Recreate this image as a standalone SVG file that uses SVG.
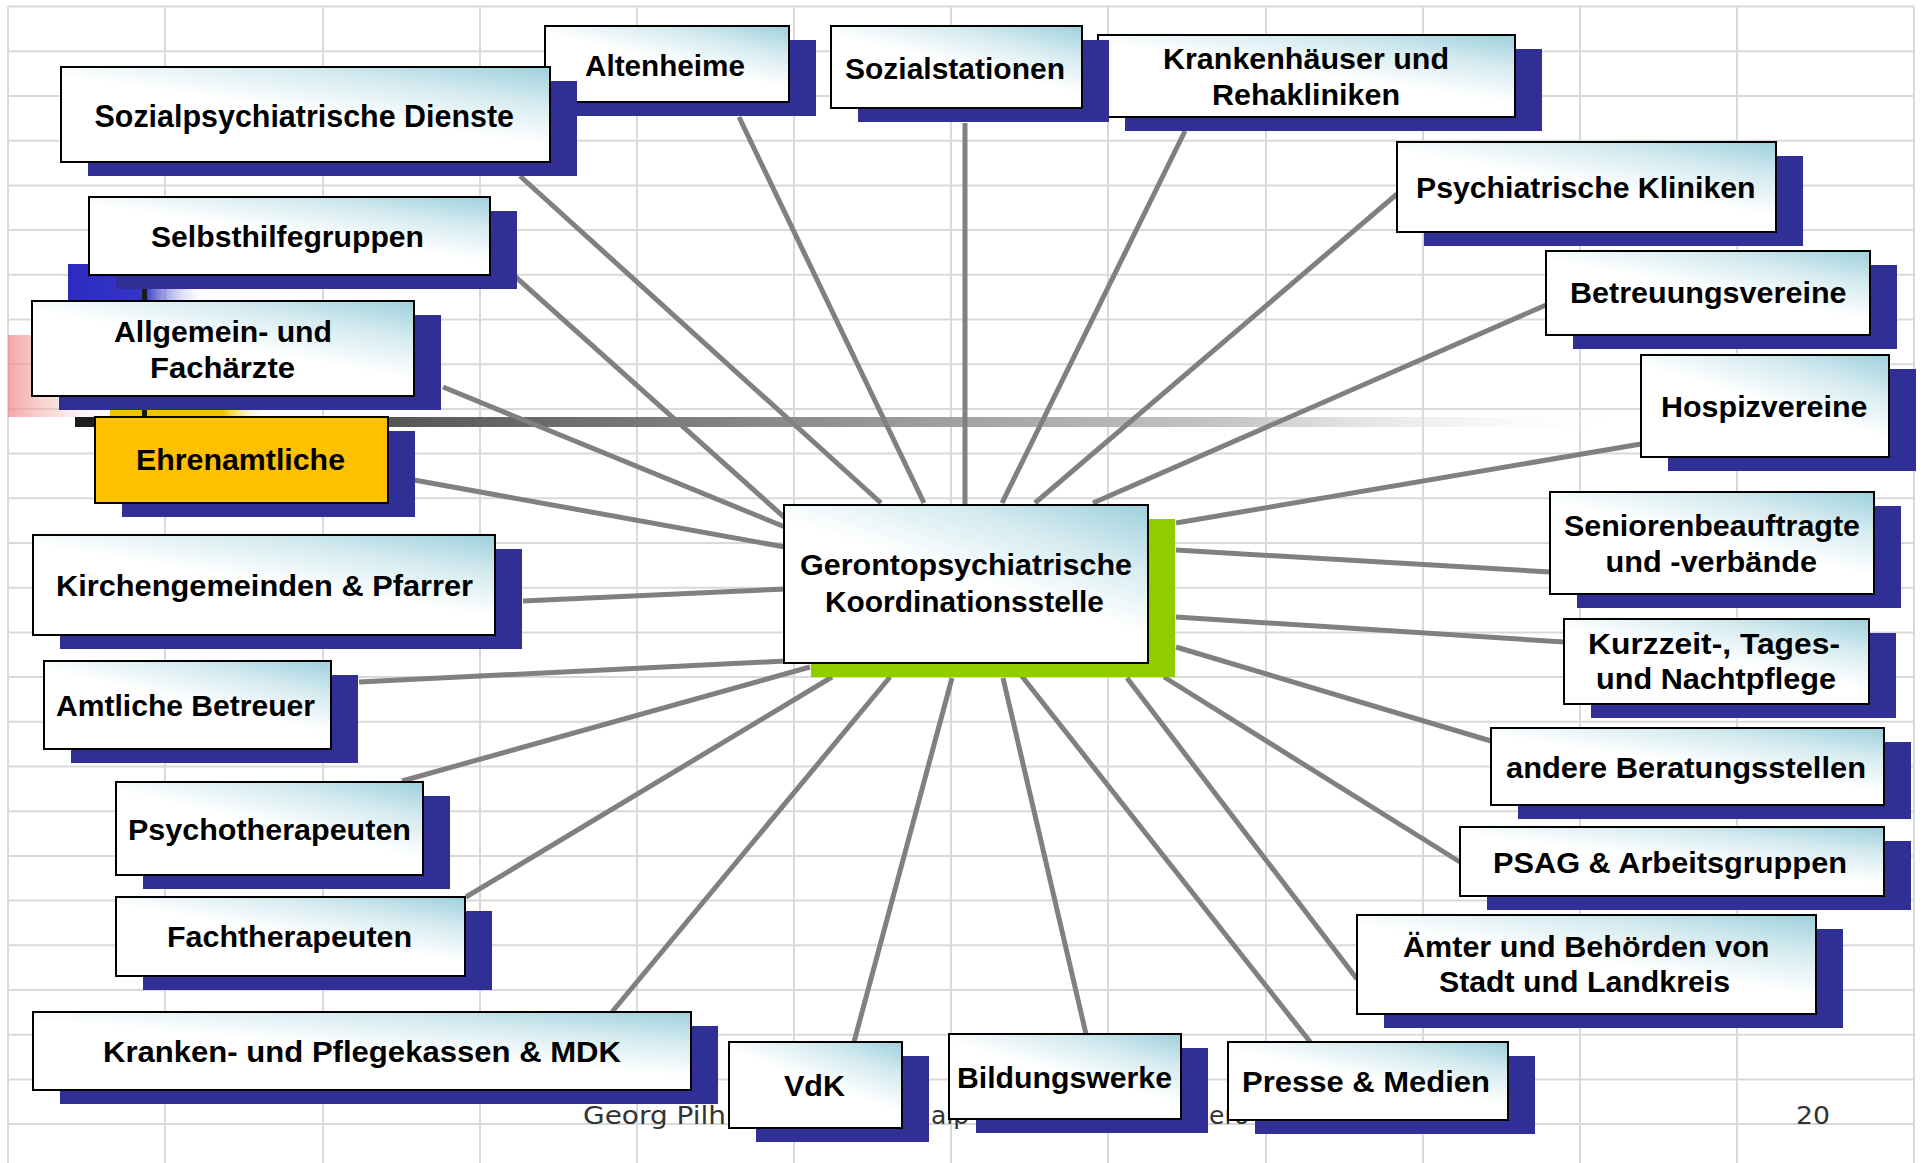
<svg xmlns="http://www.w3.org/2000/svg" width="1932" height="1163" viewBox="0 0 1932 1163">
<defs>
<linearGradient id="g" x1="1" y1="0" x2="0.45" y2="0.75">
<stop offset="0" stop-color="#9dd0dc"/>
<stop offset="0.35" stop-color="#d5ebf0"/>
<stop offset="0.72" stop-color="#ffffff"/>
</linearGradient>
<linearGradient id="bar" x1="0" y1="0" x2="1" y2="0">
<stop offset="0" stop-color="#1c1c1c"/>
<stop offset="0.22" stop-color="#5a5a5a"/>
<stop offset="0.45" stop-color="#8a8a8a"/>
<stop offset="0.75" stop-color="#c8c8c8"/>
<stop offset="1" stop-color="#ffffff" stop-opacity="0"/>
</linearGradient>
<linearGradient id="pink" x1="0" y1="0" x2="1" y2="0">
<stop offset="0" stop-color="#f08888" stop-opacity="0.75"/>
<stop offset="1" stop-color="#ffffff" stop-opacity="0"/>
</linearGradient>
<linearGradient id="blu" x1="0" y1="0" x2="1" y2="0">
<stop offset="0" stop-color="#2b2bbf"/>
<stop offset="0.55" stop-color="#3535c8"/>
<stop offset="1" stop-color="#ffffff" stop-opacity="0"/>
</linearGradient>
<linearGradient id="yel" x1="0" y1="0" x2="1" y2="0">
<stop offset="0" stop-color="#f2c200"/>
<stop offset="0.7" stop-color="#f2c200"/>
<stop offset="1" stop-color="#ffffff" stop-opacity="0"/>
</linearGradient>
</defs>
<style>
.grid{stroke:#d9d9d9;stroke-width:2}
.sh{fill:#2f2f96}
.bx{fill:url(#g);stroke:#000;stroke-width:2}
.yb{fill:#ffc000;stroke:#000;stroke-width:2}
.gs{fill:#8fcc00}
.t{font-family:"Liberation Sans",Arial,sans-serif;font-weight:bold;font-size:29px;fill:#000}
.ln{stroke:#808080;stroke-width:5;fill:none}
.ft{font-family:"DejaVu Sans",Verdana,sans-serif;font-size:25px;fill:#333}
</style>
<rect x="0" y="0" width="1932" height="1163" fill="#ffffff"/>
<g id="grid">
<path class="grid" d="M8 6.6H1914M8 51.3H1914M8 96H1914M8 140.7H1914M8 185.4H1914M8 230.1H1914M8 274.8H1914M8 319.5H1914M8 364.2H1914M8 408.9H1914M8 453.6H1914M8 498.3H1914M8 543H1914M8 587.7H1914M8 632.4H1914M8 677.1H1914M8 721.8H1914M8 766.5H1914M8 811.2H1914M8 855.9H1914M8 900.6H1914M8 945.3H1914M8 990H1914M8 1034.7H1914M8 1079.4H1914M8 1124.1H1914"/>
<path class="grid" d="M8 6.6V1163M165 6.6V1163M323 6.6V1163M480 6.6V1163M637 6.6V1163M794 6.6V1163M951 6.6V1163M1108 6.6V1163M1266 6.6V1163M1423 6.6V1163M1580 6.6V1163M1737 6.6V1163M1914 6.6V1163"/>
</g>
<g id="decor">
<rect x="8" y="335" width="120" height="82" fill="url(#pink)"/>
<rect x="68" y="264" width="140" height="37" fill="url(#blu)"/>
<rect x="110" y="409" width="160" height="9" fill="url(#yel)"/>
<rect x="142" y="286" width="5" height="132" fill="#1a1a1a"/>
<rect x="75" y="417" width="1560" height="10" fill="url(#bar)"/>
</g>
<g id="footer">
<text class="ft" x="583" y="1124" textLength="143" lengthAdjust="spacingAndGlyphs">Georg Pilh</text>
<text class="ft" x="931" y="1124">alp</text>
<text class="ft" x="1209" y="1124">ero</text>
<text class="ft" x="1796" y="1124" textLength="34" lengthAdjust="spacingAndGlyphs">20</text>
</g>
<g id="connectors">
<line class="ln" x1="520" y1="176" x2="881" y2="503"/>
<line class="ln" x1="739" y1="117" x2="924" y2="503"/>
<line class="ln" x1="965" y1="123" x2="965" y2="504"/>
<line class="ln" x1="1185" y1="131" x2="1002" y2="503"/>
<line class="ln" x1="1397" y1="194" x2="1035" y2="503"/>
<line class="ln" x1="1546" y1="305" x2="1093" y2="503"/>
<line class="ln" x1="1641" y1="444" x2="1176" y2="523"/>
<line class="ln" x1="1550" y1="572" x2="1176" y2="550"/>
<line class="ln" x1="1564" y1="642" x2="1176" y2="617"/>
<line class="ln" x1="1491" y1="741" x2="1176" y2="647"/>
<line class="ln" x1="1460" y1="862" x2="1164" y2="677"/>
<line class="ln" x1="1357" y1="979" x2="1127" y2="678"/>
<line class="ln" x1="1311" y1="1043" x2="1017" y2="670"/>
<line class="ln" x1="1086" y1="1034" x2="1003" y2="678"/>
<line class="ln" x1="854" y1="1042" x2="952" y2="678"/>
<line class="ln" x1="612" y1="1012" x2="890" y2="677"/>
<line class="ln" x1="466" y1="897" x2="832" y2="677"/>
<line class="ln" x1="402" y1="781" x2="810" y2="667"/>
<line class="ln" x1="359" y1="682" x2="785" y2="661"/>
<line class="ln" x1="523" y1="601" x2="786" y2="589"/>
<line class="ln" x1="414" y1="480" x2="785" y2="547"/>
<line class="ln" x1="443" y1="387" x2="785" y2="527"/>
<line class="ln" x1="490" y1="254" x2="785" y2="518"/>
</g>
<g id="n-altenheime">
<rect class="sh" x="572" y="40" width="244" height="76"/>
<rect class="bx" x="545" y="26" width="244" height="76"/>
<text class="t" x="585" y="76" textLength="160" lengthAdjust="spacingAndGlyphs">Altenheime</text>
</g>
<g id="n-sozialpsych">
<rect class="sh" x="88" y="81" width="489" height="95"/>
<rect class="bx" x="61" y="67" width="489" height="95"/>
<text class="t" x="94.5" y="127" style="font-size:31px" textLength="419.5" lengthAdjust="spacingAndGlyphs">Sozialpsychiatrische Dienste</text>
</g>
<g id="n-krankenhaeuser">
<rect class="sh" x="1125" y="49" width="417" height="82"/>
<rect class="bx" x="1098" y="35" width="417" height="82"/>
<text class="t" x="1163" y="69" textLength="286" lengthAdjust="spacingAndGlyphs">Krankenhäuser und</text>
<text class="t" x="1212" y="105" textLength="188" lengthAdjust="spacingAndGlyphs">Rehakliniken</text>
</g>
<g id="n-sozialstationen">
<rect class="sh" x="858" y="40" width="251" height="82"/>
<rect class="bx" x="831" y="26" width="251" height="82"/>
<text class="t" x="845" y="79" textLength="220" lengthAdjust="spacingAndGlyphs">Sozialstationen</text>
</g>
<g id="n-psychkliniken">
<rect class="sh" x="1424" y="156" width="379" height="90"/>
<rect class="bx" x="1397" y="142" width="379" height="90"/>
<text class="t" x="1416" y="198" textLength="339.5" lengthAdjust="spacingAndGlyphs">Psychiatrische Kliniken</text>
</g>
<g id="n-betreuung">
<rect class="sh" x="1573" y="265" width="324" height="84"/>
<rect class="bx" x="1546" y="251" width="324" height="84"/>
<text class="t" x="1570" y="303" textLength="276.5" lengthAdjust="spacingAndGlyphs">Betreuungsvereine</text>
</g>
<g id="n-hospiz">
<rect class="sh" x="1668" y="369" width="248" height="102"/>
<rect class="bx" x="1641" y="355" width="248" height="102"/>
<text class="t" x="1661" y="417" textLength="206.5" lengthAdjust="spacingAndGlyphs">Hospizvereine</text>
</g>
<g id="n-senioren">
<rect class="sh" x="1577" y="506" width="324" height="102"/>
<rect class="bx" x="1550" y="492" width="324" height="102"/>
<text class="t" x="1564" y="536" textLength="296" lengthAdjust="spacingAndGlyphs">Seniorenbeauftragte</text>
<text class="t" x="1605.5" y="571.5" textLength="211.5" lengthAdjust="spacingAndGlyphs">und -verbände</text>
</g>
<g id="n-kurzzeit">
<rect class="sh" x="1591" y="633" width="305" height="85"/>
<rect class="bx" x="1564" y="619" width="305" height="85"/>
<text class="t" x="1588" y="654" textLength="252" lengthAdjust="spacingAndGlyphs">Kurzzeit-, Tages-</text>
<text class="t" x="1596" y="689" textLength="240" lengthAdjust="spacingAndGlyphs">und Nachtpflege</text>
</g>
<g id="n-beratung">
<rect class="sh" x="1518" y="742" width="393" height="77"/>
<rect class="bx" x="1491" y="728" width="393" height="77"/>
<text class="t" x="1506" y="778" textLength="360" lengthAdjust="spacingAndGlyphs">andere Beratungsstellen</text>
</g>
<g id="n-psag">
<rect class="sh" x="1487" y="841" width="424" height="69"/>
<rect class="bx" x="1460" y="827" width="424" height="69"/>
<text class="t" x="1493" y="873" textLength="354" lengthAdjust="spacingAndGlyphs">PSAG &amp; Arbeitsgruppen</text>
</g>
<g id="n-aemter">
<rect class="sh" x="1384" y="929" width="459" height="99"/>
<rect class="bx" x="1357" y="915" width="459" height="99"/>
<text class="t" x="1403" y="957" textLength="366.5" lengthAdjust="spacingAndGlyphs">Ämter und Behörden von</text>
<text class="t" x="1439" y="992" textLength="291" lengthAdjust="spacingAndGlyphs">Stadt und Landkreis</text>
</g>
<g id="n-presse">
<rect class="sh" x="1255" y="1056" width="280" height="78"/>
<rect class="bx" x="1228" y="1042" width="280" height="78"/>
<text class="t" x="1242" y="1092" textLength="248" lengthAdjust="spacingAndGlyphs">Presse &amp; Medien</text>
</g>
<g id="n-bildung">
<rect class="sh" x="976" y="1048" width="232" height="85"/>
<rect class="bx" x="949" y="1034" width="232" height="85"/>
<text class="t" x="957" y="1088" textLength="215" lengthAdjust="spacingAndGlyphs">Bildungswerke</text>
</g>
<g id="n-vdk">
<rect class="sh" x="756" y="1056" width="173" height="86"/>
<rect class="bx" x="729" y="1042" width="173" height="86"/>
<text class="t" x="784" y="1096" textLength="61" lengthAdjust="spacingAndGlyphs">VdK</text>
</g>
<g id="n-kranken">
<rect class="sh" x="60" y="1026" width="658" height="78"/>
<rect class="bx" x="33" y="1012" width="658" height="78"/>
<text class="t" x="103" y="1062" textLength="518" lengthAdjust="spacingAndGlyphs">Kranken- und Pflegekassen &amp; MDK</text>
</g>
<g id="n-fachth">
<rect class="sh" x="143" y="911" width="349" height="79"/>
<rect class="bx" x="116" y="897" width="349" height="79"/>
<text class="t" x="167" y="947" textLength="245" lengthAdjust="spacingAndGlyphs">Fachtherapeuten</text>
</g>
<g id="n-psychoth">
<rect class="sh" x="143" y="796" width="307" height="93"/>
<rect class="bx" x="116" y="782" width="307" height="93"/>
<text class="t" x="128" y="840" textLength="283" lengthAdjust="spacingAndGlyphs">Psychotherapeuten</text>
</g>
<g id="n-amtlich">
<rect class="sh" x="71" y="675" width="287" height="88"/>
<rect class="bx" x="44" y="661" width="287" height="88"/>
<text class="t" x="56" y="716" textLength="259" lengthAdjust="spacingAndGlyphs">Amtliche Betreuer</text>
</g>
<g id="n-kirchen">
<rect class="sh" x="60" y="549" width="462" height="100"/>
<rect class="bx" x="33" y="535" width="462" height="100"/>
<text class="t" x="56" y="596" textLength="417" lengthAdjust="spacingAndGlyphs">Kirchengemeinden &amp; Pfarrer</text>
</g>
<g id="n-selbsthilfe">
<rect class="sh" x="116" y="211" width="401" height="78"/>
<rect class="bx" x="89" y="197" width="401" height="78"/>
<text class="t" x="151" y="247" textLength="273" lengthAdjust="spacingAndGlyphs">Selbsthilfegruppen</text>
</g>
<g id="n-allgemein">
<rect class="sh" x="59" y="315" width="382" height="95"/>
<rect class="bx" x="32" y="301" width="382" height="95"/>
<text class="t" x="114" y="342" textLength="218" lengthAdjust="spacingAndGlyphs">Allgemein- und</text>
<text class="t" x="150" y="378" textLength="145" lengthAdjust="spacingAndGlyphs">Fachärzte</text>
</g>
<g id="n-ehrenamt">
<rect class="sh" x="122" y="431" width="293" height="86"/>
<rect class="yb" x="95" y="417" width="293" height="86"/>
<text class="t" x="136" y="470" textLength="209" lengthAdjust="spacingAndGlyphs">Ehrenamtliche</text>
</g>
<g id="n-center">
<rect class="gs" x="811" y="519" width="364" height="158"/>
<rect class="bx" x="784" y="505" width="364" height="158"/>
<text class="t" x="800" y="575" textLength="332" lengthAdjust="spacingAndGlyphs">Gerontopsychiatrische</text>
<text class="t" x="825" y="612" textLength="279" lengthAdjust="spacingAndGlyphs">Koordinationsstelle</text>
</g>
</svg>
